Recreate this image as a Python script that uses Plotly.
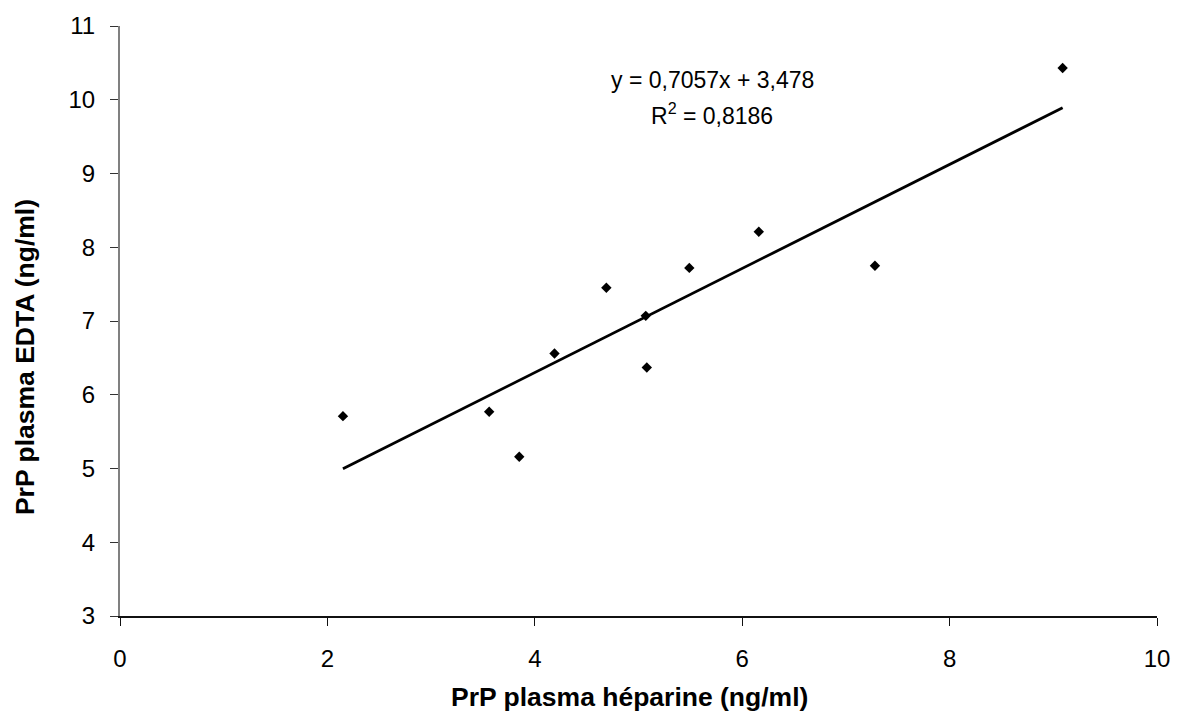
import plotly.graph_objects as go

# Data
heparine = [2.15, 3.56, 3.85, 4.19, 4.69, 5.07, 5.08, 5.49, 6.16, 7.28, 9.09]
edta = [5.71, 5.77, 5.16, 6.56, 7.45, 7.07, 6.37, 7.72, 8.21, 7.75, 10.43]

slope = 0.7057
intercept = 3.478
r2 = 0.8186

x_ticks = [0, 2, 4, 6, 8, 10]
y_ticks = [3, 4, 5, 6, 7, 8, 9, 10, 11]

x_title = "PrP plasma héparine (ng/ml)"
y_title = "PrP plasma EDTA (ng/ml)"
eq_text = "y = 0,7057x + 3,478"
r2_text = "R<sup>2</sup> = 0,8186"

FONT = "Liberation Sans, Arial, sans-serif"

W_FIG, H_FIG = 1182, 713
M_L, M_R, M_T, M_B = 120, 18, 25, 97
plot_l, plot_r = M_L, W_FIG - M_R
plot_t, plot_b = M_T, H_FIG - M_B


def paper_x(px):
    return (px - plot_l) / (plot_r - plot_l)


def paper_y(py):
    return (plot_b - py) / (plot_b - plot_t)


x_line = [min(heparine), max(heparine)]
y_line = [slope * v + intercept for v in x_line]

fig = go.Figure()
fig.add_trace(go.Scatter(
    x=heparine, y=edta, mode="markers",
    marker=dict(symbol="diamond", size=8, color="black"),
    showlegend=False, hoverinfo="x+y",
))
fig.add_trace(go.Scatter(
    x=x_line, y=y_line, mode="lines",
    line=dict(color="black", width=2.8),
    showlegend=False, hoverinfo="skip",
))

fig.update_layout(
    width=W_FIG, height=H_FIG,
    margin=dict(l=M_L, r=M_R, t=M_T, b=M_B),
    paper_bgcolor="white", plot_bgcolor="white",
    font=dict(family=FONT, size=24, color="black"),
    xaxis=dict(
        range=[0, 10], tickvals=x_ticks, ticktext=[str(v) for v in x_ticks],
        showgrid=False, zeroline=False,
        showline=True, linecolor="#111111", linewidth=1.5,
        ticks="outside", ticklen=8, tickwidth=1, tickcolor="#111111",
        ticklabelstandoff=12,
        tickfont=dict(family=FONT, size=24, color="black"),
    ),
    yaxis=dict(
        range=[3, 11], tickvals=y_ticks, ticktext=[str(v) for v in y_ticks],
        showgrid=False, zeroline=False,
        showline=True, linecolor="#808080", linewidth=2,
        ticks="outside", ticklen=8, tickwidth=1, tickcolor="#333333",
        ticklabelstandoff=10,
        tickfont=dict(family=FONT, size=24, color="black"),
    ),
    annotations=[
        dict(text=eq_text, x=5.71, y=10.27, xref="x", yref="y",
             showarrow=False, xanchor="center", yanchor="middle",
             font=dict(family=FONT, size=23, color="black")),
        dict(text=r2_text, x=5.71, y=9.81, xref="x", yref="y",
             showarrow=False, xanchor="center", yanchor="middle",
             font=dict(family=FONT, size=23, color="black")),
        dict(text="<b>" + x_title + "</b>", x=paper_x(633), y=paper_y(697),
             xref="paper", yref="paper", showarrow=False,
             xanchor="center", yanchor="middle",
             font=dict(family=FONT, size=26.5, color="black")),
        dict(text="<b>" + y_title + "</b>", x=paper_x(25), y=paper_y(357),
             xref="paper", yref="paper", showarrow=False, textangle=-90,
             xanchor="center", yanchor="middle",
             font=dict(family=FONT, size=26.5, color="black")),
    ],
)

fig.write_html("out.html")
